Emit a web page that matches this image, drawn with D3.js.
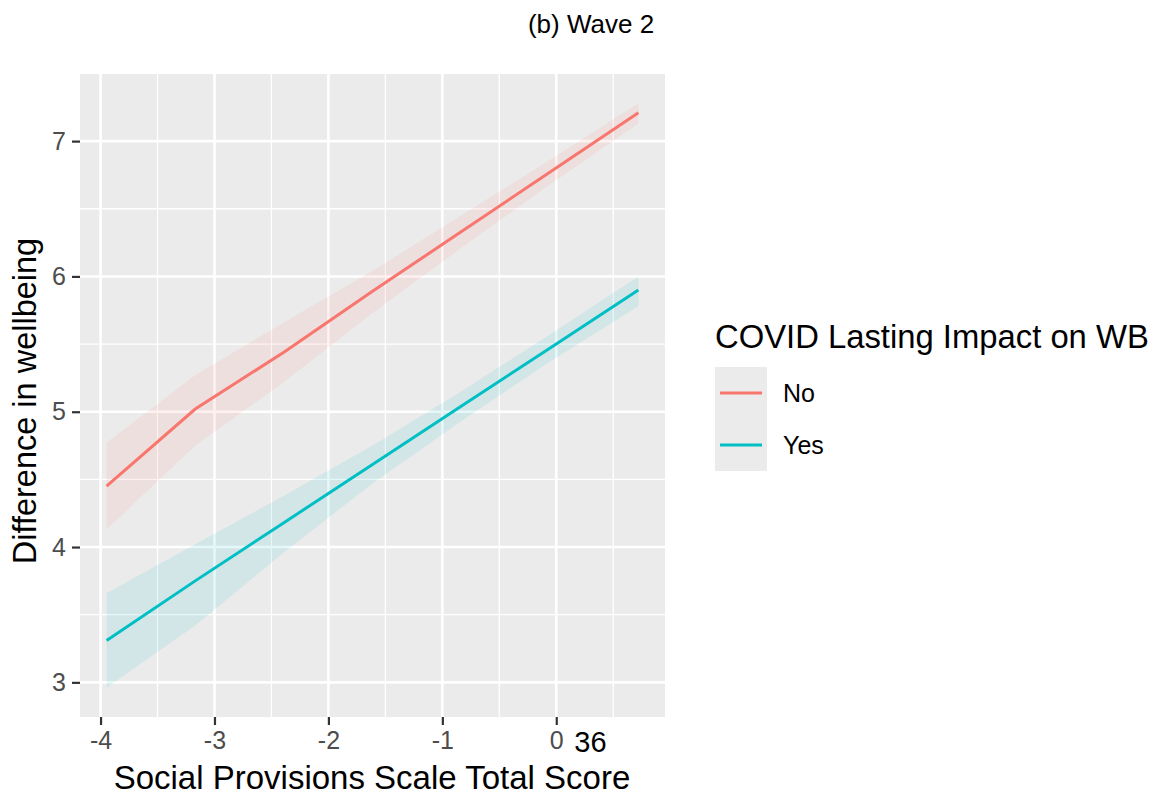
<!DOCTYPE html>
<html>
<head>
<meta charset="utf-8">
<script src="https://cdn.jsdelivr.net/npm/d3@7"></script>
<style>
  body { margin: 0; background: #fff; }
  text { font-family: "Liberation Sans", Arial, sans-serif; }
</style>
</head>
<body>
<div class="canvas"></div>
<script>
// predicted wellbeing difference at each social provisions score
const spsScore = [-3.947, -3.169, -2.391, -1.613, -0.835, -0.057, 0.721];
const noFit   = [4.45, 5.02, 5.44, 5.89, 6.33, 6.77, 7.21];
const noLow   = [4.13, 4.75, 5.22, 5.73, 6.21, 6.68, 7.13];
const noHigh  = [4.77, 5.27, 5.66, 6.04, 6.45, 6.86, 7.28];
const yesFit  = [3.31, 3.75, 4.18, 4.61, 5.04, 5.47, 5.90];
const yesLow  = [2.96, 3.42, 3.96, 4.47, 4.93, 5.37, 5.78];
const yesHigh = [3.66, 4.02, 4.38, 4.75, 5.15, 5.57, 6.00];
const groups = ['No', 'Yes'];
const xTicks = [-4, -3, -2, -1, 0];
const yTicks = [3, 4, 5, 6, 7];

const dims = { width: 1158, height: 796 };
const panel = { left: 80, right: 665, top: 74, bottom: 717 };

const colour = d3.scaleOrdinal().domain(groups).range(['#F8766D', '#00BFC4']);

const series = [
  { name: 'No', fit: noFit, low: noLow, high: noHigh },
  { name: 'Yes', fit: yesFit, low: yesLow, high: yesHigh }
].map(s => ({
  name: s.name,
  values: spsScore.map((x, i) => ({ x: x, y: s.fit[i], lo: s.low[i], hi: s.high[i] }))
}));

// ggplot style 5% expansion
const xExt = d3.extent(spsScore);
const xPad = (xExt[1] - xExt[0]) * 0.05;
const yMin = d3.min(series, s => d3.min(s.values, d => d.lo));
const yMax = d3.max(series, s => d3.max(s.values, d => d.hi));
const yPad = (yMax - yMin) * 0.05;

const x = d3.scaleLinear().domain([xExt[0] - xPad, xExt[1] + xPad]).range([panel.left, panel.right]);
const y = d3.scaleLinear().domain([yMin - yPad, yMax + yPad]).range([panel.bottom, panel.top]);

const svg = d3.select('.canvas')
  .append('svg')
  .attr('width', dims.width)
  .attr('height', dims.height);

// panel background
svg.append('rect')
  .attr('x', panel.left)
  .attr('y', panel.top)
  .attr('width', panel.right - panel.left)
  .attr('height', panel.bottom - panel.top)
  .attr('fill', '#EBEBEB');

// grid lines
const xMinor = d3.range(-4.5, 1, 1).filter(v => x(v) > panel.left && x(v) < panel.right);
const yMinor = d3.range(2.5, 8, 1).filter(v => y(v) > panel.top && y(v) < panel.bottom);

const grid = svg.append('g');
grid.selectAll('.xminor').data(xMinor).enter().append('line')
  .attr('x1', d => x(d)).attr('x2', d => x(d))
  .attr('y1', panel.top).attr('y2', panel.bottom)
  .attr('stroke', '#fff').attr('stroke-width', 1.3);
grid.selectAll('.yminor').data(yMinor).enter().append('line')
  .attr('y1', d => y(d)).attr('y2', d => y(d))
  .attr('x1', panel.left).attr('x2', panel.right)
  .attr('stroke', '#fff').attr('stroke-width', 1.3);
grid.selectAll('.xmajor').data(xTicks).enter().append('line')
  .attr('x1', d => x(d)).attr('x2', d => x(d))
  .attr('y1', panel.top).attr('y2', panel.bottom)
  .attr('stroke', '#fff').attr('stroke-width', 2.6);
grid.selectAll('.ymajor').data(yTicks).enter().append('line')
  .attr('y1', d => y(d)).attr('y2', d => y(d))
  .attr('x1', panel.left).attr('x2', panel.right)
  .attr('stroke', '#fff').attr('stroke-width', 2.6);

// ribbons and lines
const area = d3.area()
  .x(d => x(d.x))
  .y0(d => y(d.lo))
  .y1(d => y(d.hi));

const line = d3.line()
  .x(d => x(d.x))
  .y(d => y(d.y));

svg.selectAll('.ribbon')
  .data(series)
  .enter()
  .append('path')
    .attr('class', 'ribbon')
    .attr('d', d => area(d.values))
    .attr('fill', d => colour(d.name))
    .attr('fill-opacity', 0.1);

svg.selectAll('.fit')
  .data(series)
  .enter()
  .append('path')
    .attr('class', 'fit')
    .attr('d', d => line(d.values))
    .attr('fill', 'none')
    .attr('stroke', d => colour(d.name))
    .attr('stroke-width', 3);

// axes (plain hyphen for negatives, like R)
const xAxis = d3.axisBottom(x).tickValues(xTicks).tickSize(8).tickPadding(6).tickFormat(d => String(d));
const yAxis = d3.axisLeft(y).tickValues(yTicks).tickSize(8).tickPadding(6).tickFormat(d => String(d));

const gx = svg.append('g')
  .attr('transform', `translate(0, ${panel.bottom})`)
  .call(xAxis);
const gy = svg.append('g')
  .attr('transform', `translate(${panel.left}, 0)`)
  .call(yAxis);

[gx, gy].forEach(g => {
  g.select('.domain').remove();
  g.selectAll('.tick line').attr('stroke', '#333333').attr('stroke-width', 2.2);
  g.selectAll('.tick text')
    .attr('fill', '#4D4D4D')
    .style('font-size', '25px')
    .style('font-family', '"Liberation Sans", Arial, sans-serif');
});

// stray page number next to the axis
svg.append('text')
  .attr('x', x(0) + 18)
  .attr('y', 752)
  .style('font-size', '29px')
  .attr('fill', '#000')
  .text('36');

// titles
svg.append('text')
  .attr('x', 372)
  .attr('y', 789)
  .attr('text-anchor', 'middle')
  .style('font-size', '33px')
  .text('Social Provisions Scale Total Score');

svg.append('text')
  .attr('transform', `translate(36, 401) rotate(-90)`)
  .attr('text-anchor', 'middle')
  .style('font-size', '32.5px')
  .text('Difference in wellbeing');

svg.append('text')
  .attr('x', 591)
  .attr('y', 33)
  .attr('text-anchor', 'middle')
  .style('font-size', '26px')
  .text('(b) Wave 2');

// legend
const legendX = 715;
const legendKey = 52;

svg.append('text')
  .attr('x', legendX)
  .attr('y', 348)
  .style('font-size', '32.8px')
  .text('COVID Lasting Impact on WB');

const legend = svg.selectAll('.legend')
  .data(colour.domain())
  .enter()
  .append('g')
  .attr('class', 'legend')
  .attr('transform', (d, i) => `translate(${legendX}, ${367 + i * legendKey})`);

legend.append('rect')
  .attr('width', legendKey)
  .attr('height', legendKey)
  .attr('fill', '#EBEBEB');

legend.append('line')
  .attr('x1', 5).attr('x2', legendKey - 5)
  .attr('y1', legendKey / 2).attr('y2', legendKey / 2)
  .attr('stroke', colour)
  .attr('stroke-width', 3);

legend.append('text')
  .attr('x', legendKey + 16)
  .attr('y', legendKey / 2)
  .attr('dy', '0.36em')
  .style('font-size', '25px')
  .text(d => d);
</script>
</body>
</html>
